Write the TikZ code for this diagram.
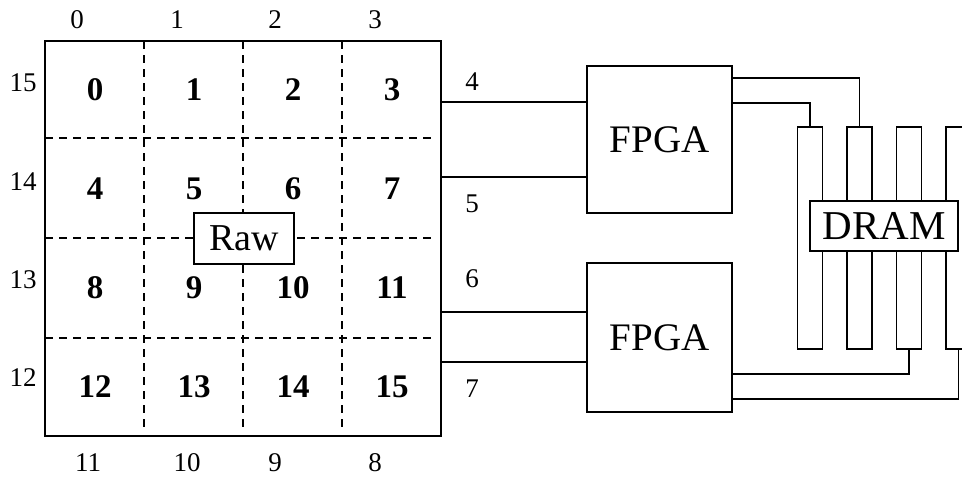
\documentclass[tikz,border=0pt]{standalone}
\usepackage{fontspec}
\setmainfont{Liberation Serif}
\begin{document}
\begin{tikzpicture}[x=1pt,y=-1pt,line width=1.7pt,
  box/.style={draw,inner sep=0pt,outer sep=0pt},
  cellnum/.style={font=\fontsize{33}{33}\selectfont\bfseries,inner sep=0pt},
  lbl/.style={font=\fontsize{27}{27}\selectfont,inner sep=0pt},
  bigtext/.style={font=\fontsize{39}{39}\selectfont},
  grid line/.style={line width=1.5pt,dash pattern=on 8pt off 6pt},
  stick/.style={box,minimum width=25pt,minimum height=222pt}]
\useasboundingbox (0,0) rectangle (962,479);
\clip (0,0) rectangle (962,479);
% main grid square
\node[box,minimum width=396pt,minimum height=395pt] (grid) at (243,238.5) {};
\draw[grid line] (144,41) -- (144,428);
\draw[grid line] (243,41) -- (243,428);
\draw[grid line] (342,41) -- (342,428);
\draw[grid line] (45,138) -- (434,138);
\draw[grid line] (45,238) -- (434,238);
\draw[grid line] (45,338) -- (434,338);
% cell numbers
\foreach \n/\x/\y in {0/95/90,1/194/90,2/293/90,3/392/90,
  4/95/189,5/194/189,6/293/189,7/392/189,
  8/95/288,9/194/288,10/293/288,11/392/288,
  12/95/387,13/194/387,14/293/387,15/392/387}
  \node[cellnum] (c\n) at (\x,\y) {\n};
% Raw box
\node[box,fill=white,minimum width=100pt,minimum height=51pt,font=\fontsize{38}{38}\selectfont] (raw) at (244,238.5) {Raw};
% outer labels
\node[lbl] (t0) at (77,20) {0};
\node[lbl] (t1) at (177,20) {1};
\node[lbl] (t2) at (275,20) {2};
\node[lbl] (t3) at (375,20) {3};
\node[lbl] (b11) at (88,463) {11};
\node[lbl] (b10) at (187,463) {10};
\node[lbl] (b9) at (275,463) {9};
\node[lbl] (b8) at (375,463) {8};
\node[lbl] (l15) at (23,83) {15};
\node[lbl] (l14) at (23,182) {14};
\node[lbl] (l13) at (23,280) {13};
\node[lbl] (l12) at (23,378) {12};
% FPGAs
\node[box,bigtext,minimum width=145pt,minimum height=147pt] (fpga1) at (659.5,139.5) {FPGA};
\node[box,bigtext,minimum width=145pt,minimum height=149pt] (fpga2) at (659.5,337.5) {FPGA};
% link coordinates
\coordinate (y4) at (0,102);
\coordinate (y5) at (0,177);
\coordinate (y6) at (0,312);
\coordinate (y7) at (0,362);
\draw (grid.east |- y4) -- (fpga1.west |- y4);
\draw (grid.east |- y5) -- (fpga1.west |- y5);
\draw (grid.east |- y6) -- (fpga2.west |- y6);
\draw (grid.east |- y7) -- (fpga2.west |- y7);
\node[lbl] (n4) at (472,82) {4};
\node[lbl] (n5) at (472,204) {5};
\node[lbl] (n6) at (472,279) {6};
\node[lbl] (n7) at (472,389) {7};
% DRAM sticks
\node[stick] (s1) at (810,238) {};
\node[stick] (s2) at (859.5,238) {};
\node[stick] (s3) at (909,238) {};
\node[stick] (s4) at (958.5,238) {};
\node[box,fill=white,font=\fontsize{41}{41}\selectfont,minimum width=148pt,minimum height=50pt] (dram) at (884,226) {DRAM};
% FPGA to DRAM
\coordinate (ya) at (0,78);
\coordinate (yb) at (0,103);
\coordinate (yc) at (0,374);
\coordinate (yd) at (0,399);
\draw (fpga1.east |- ya) -| (s2.north);
\draw (fpga1.east |- yb) -| (s1.north);
\draw (fpga2.east |- yc) -| (s3.south);
\draw (fpga2.east |- yd) -| (s4.south);
\end{tikzpicture}
\end{document}
